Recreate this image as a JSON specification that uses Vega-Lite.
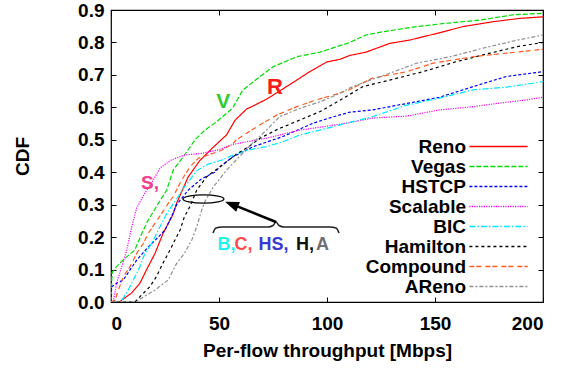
{
  "$schema": "https://vega.github.io/schema/vega-lite/v6.json",
  "width": 432,
  "height": 292,
  "autosize": {"type": "none"},
  "padding": {"left": 111, "top": 10, "right": 36, "bottom": 70},
  "background": "white",
  "config": {
    "view": {"stroke": "black", "strokeWidth": 1.2},
    "font": "Liberation Sans",
    "axis": {
      "grid": false,
      "domain": false,
      "tickSize": -5,
      "tickColor": "black",
      "tickWidth": 1,
      "labelFont": "Liberation Sans",
      "labelFontWeight": "bold",
      "labelFontSize": 19,
      "labelColor": "black",
      "titleFont": "Liberation Sans",
      "titleFontWeight": "bold",
      "titleFontSize": 19,
      "titleColor": "black"
    },
    "legend": {
      "title": null, "orient": "none", "legendX": 378, "legendY": 127, "padding": 0,
      "symbolType": "M-9.7,0H9.7", "symbolSize": 36, "symbolStrokeWidth": 1.5, "rowPadding": 0,
      "labelAlign": "right", "labelOffset": -42, "labelFont": "Liberation Sans", "labelFontWeight": "bold",
      "labelFontSize": 19, "labelColor": "black", "labelLimit": 300
    }
  },
  "data": {"values": [
    {"s":"Reno","x":0,"y":0},{"s":"Reno","x":4,"y":0},{"s":"Reno","x":5,"y":0.006},{"s":"Reno","x":9.6,"y":0.028},{"s":"Reno","x":13.4,"y":0.058},{"s":"Reno","x":16.5,"y":0.1},{"s":"Reno","x":20.4,"y":0.15},{"s":"Reno","x":24,"y":0.21},{"s":"Reno","x":28.7,"y":0.27},{"s":"Reno","x":30.4,"y":0.305},{"s":"Reno","x":35.7,"y":0.385},{"s":"Reno","x":41,"y":0.435},{"s":"Reno","x":47,"y":0.475},{"s":"Reno","x":53.5,"y":0.515},{"s":"Reno","x":57.4,"y":0.56},{"s":"Reno","x":62.8,"y":0.595},{"s":"Reno","x":66,"y":0.605},{"s":"Reno","x":72,"y":0.625},{"s":"Reno","x":78,"y":0.65},{"s":"Reno","x":86,"y":0.684},{"s":"Reno","x":92,"y":0.71},{"s":"Reno","x":100,"y":0.74},{"s":"Reno","x":106,"y":0.748},{"s":"Reno","x":110.6,"y":0.76},{"s":"Reno","x":118,"y":0.77},{"s":"Reno","x":129,"y":0.797},{"s":"Reno","x":138,"y":0.807},{"s":"Reno","x":151,"y":0.828},{"s":"Reno","x":163,"y":0.849},{"s":"Reno","x":177,"y":0.864},{"s":"Reno","x":189,"y":0.874},{"s":"Reno","x":200,"y":0.879},
    {"s":"Vegas","x":0,"y":0},{"s":"Vegas","x":0.5,"y":0.09},{"s":"Vegas","x":2,"y":0.105},{"s":"Vegas","x":6.5,"y":0.135},{"s":"Vegas","x":11,"y":0.16},{"s":"Vegas","x":14.2,"y":0.21},{"s":"Vegas","x":17,"y":0.25},{"s":"Vegas","x":21,"y":0.294},{"s":"Vegas","x":25.8,"y":0.345},{"s":"Vegas","x":28.8,"y":0.407},{"s":"Vegas","x":33.5,"y":0.448},{"s":"Vegas","x":38.9,"y":0.5},{"s":"Vegas","x":43.5,"y":0.53},{"s":"Vegas","x":49,"y":0.556},{"s":"Vegas","x":55,"y":0.59},{"s":"Vegas","x":56.5,"y":0.6},{"s":"Vegas","x":61,"y":0.653},{"s":"Vegas","x":69,"y":0.695},{"s":"Vegas","x":75,"y":0.725},{"s":"Vegas","x":86,"y":0.756},{"s":"Vegas","x":96.8,"y":0.77},{"s":"Vegas","x":106,"y":0.79},{"s":"Vegas","x":110.6,"y":0.8},{"s":"Vegas","x":118,"y":0.823},{"s":"Vegas","x":126,"y":0.833},{"s":"Vegas","x":141.5,"y":0.849},{"s":"Vegas","x":155,"y":0.859},{"s":"Vegas","x":171,"y":0.869},{"s":"Vegas","x":186,"y":0.885},{"s":"Vegas","x":200,"y":0.89},
    {"s":"HSTCP","x":0,"y":0},{"s":"HSTCP","x":0.3,"y":0.047},{"s":"HSTCP","x":2.6,"y":0.058},{"s":"HSTCP","x":5.7,"y":0.068},{"s":"HSTCP","x":8.8,"y":0.099},{"s":"HSTCP","x":11.9,"y":0.129},{"s":"HSTCP","x":17.3,"y":0.17},{"s":"HSTCP","x":21.9,"y":0.2},{"s":"HSTCP","x":25,"y":0.222},{"s":"HSTCP","x":28,"y":0.263},{"s":"HSTCP","x":30.4,"y":0.3},{"s":"HSTCP","x":35.8,"y":0.345},{"s":"HSTCP","x":42,"y":0.38},{"s":"HSTCP","x":48,"y":0.4},{"s":"HSTCP","x":50.5,"y":0.417},{"s":"HSTCP","x":56.5,"y":0.448},{"s":"HSTCP","x":66,"y":0.479},{"s":"HSTCP","x":79.6,"y":0.51},{"s":"HSTCP","x":93.5,"y":0.551},{"s":"HSTCP","x":103,"y":0.571},{"s":"HSTCP","x":110.6,"y":0.585},{"s":"HSTCP","x":121,"y":0.592},{"s":"HSTCP","x":137,"y":0.612},{"s":"HSTCP","x":152,"y":0.631},{"s":"HSTCP","x":167.7,"y":0.664},{"s":"HSTCP","x":183,"y":0.695},{"s":"HSTCP","x":200,"y":0.71},
    {"s":"Scalable","x":0,"y":0},{"s":"Scalable","x":1,"y":0.0},{"s":"Scalable","x":2.6,"y":0.058},{"s":"Scalable","x":5,"y":0.109},{"s":"Scalable","x":7.3,"y":0.16},{"s":"Scalable","x":9.6,"y":0.232},{"s":"Scalable","x":11.9,"y":0.29},{"s":"Scalable","x":15.7,"y":0.336},{"s":"Scalable","x":19.6,"y":0.376},{"s":"Scalable","x":22.7,"y":0.413},{"s":"Scalable","x":28,"y":0.438},{"s":"Scalable","x":34,"y":0.453},{"s":"Scalable","x":42,"y":0.458},{"s":"Scalable","x":49.7,"y":0.469},{"s":"Scalable","x":56.6,"y":0.486},{"s":"Scalable","x":72,"y":0.505},{"s":"Scalable","x":87.5,"y":0.53},{"s":"Scalable","x":98,"y":0.54},{"s":"Scalable","x":110.6,"y":0.553},{"s":"Scalable","x":121,"y":0.567},{"s":"Scalable","x":137,"y":0.573},{"s":"Scalable","x":152,"y":0.592},{"s":"Scalable","x":167.7,"y":0.602},{"s":"Scalable","x":178.6,"y":0.612},{"s":"Scalable","x":192.5,"y":0.623},{"s":"Scalable","x":200,"y":0.631},
    {"s":"BIC","x":0,"y":0},{"s":"BIC","x":4,"y":0},{"s":"BIC","x":5,"y":0.006},{"s":"BIC","x":7.3,"y":0.028},{"s":"BIC","x":10.3,"y":0.068},{"s":"BIC","x":13.4,"y":0.109},{"s":"BIC","x":15.7,"y":0.15},{"s":"BIC","x":18.8,"y":0.18},{"s":"BIC","x":21.9,"y":0.222},{"s":"BIC","x":25.8,"y":0.273},{"s":"BIC","x":29.6,"y":0.31},{"s":"BIC","x":34,"y":0.355},{"s":"BIC","x":39.7,"y":0.405},{"s":"BIC","x":45,"y":0.425},{"s":"BIC","x":51,"y":0.437},{"s":"BIC","x":56.5,"y":0.453},{"s":"BIC","x":64,"y":0.469},{"s":"BIC","x":72,"y":0.479},{"s":"BIC","x":79.6,"y":0.494},{"s":"BIC","x":87.5,"y":0.515},{"s":"BIC","x":96.8,"y":0.53},{"s":"BIC","x":106,"y":0.546},{"s":"BIC","x":121,"y":0.571},{"s":"BIC","x":137,"y":0.607},{"s":"BIC","x":152,"y":0.628},{"s":"BIC","x":167.7,"y":0.654},{"s":"BIC","x":183,"y":0.662},{"s":"BIC","x":200,"y":0.679},
    {"s":"Hamilton","x":0,"y":0},{"s":"Hamilton","x":11,"y":0},{"s":"Hamilton","x":11.9,"y":0.006},{"s":"Hamilton","x":15,"y":0.027},{"s":"Hamilton","x":18,"y":0.047},{"s":"Hamilton","x":21,"y":0.078},{"s":"Hamilton","x":24,"y":0.119},{"s":"Hamilton","x":27.3,"y":0.16},{"s":"Hamilton","x":29.6,"y":0.191},{"s":"Hamilton","x":32,"y":0.222},{"s":"Hamilton","x":34,"y":0.263},{"s":"Hamilton","x":36.6,"y":0.295},{"s":"Hamilton","x":39.7,"y":0.345},{"s":"Hamilton","x":44.3,"y":0.386},{"s":"Hamilton","x":50.5,"y":0.417},{"s":"Hamilton","x":58,"y":0.455},{"s":"Hamilton","x":64,"y":0.48},{"s":"Hamilton","x":69,"y":0.505},{"s":"Hamilton","x":78,"y":0.535},{"s":"Hamilton","x":87.5,"y":0.561},{"s":"Hamilton","x":96.8,"y":0.587},{"s":"Hamilton","x":106,"y":0.622},{"s":"Hamilton","x":116.7,"y":0.664},{"s":"Hamilton","x":129,"y":0.684},{"s":"Hamilton","x":144.5,"y":0.71},{"s":"Hamilton","x":160,"y":0.741},{"s":"Hamilton","x":175.5,"y":0.767},{"s":"Hamilton","x":188,"y":0.787},{"s":"Hamilton","x":200,"y":0.8},
    {"s":"Compound","x":0,"y":0},{"s":"Compound","x":1.9,"y":0.006},{"s":"Compound","x":3.4,"y":0.037},{"s":"Compound","x":5.7,"y":0.078},{"s":"Compound","x":8.8,"y":0.109},{"s":"Compound","x":11.9,"y":0.15},{"s":"Compound","x":15,"y":0.181},{"s":"Compound","x":17.3,"y":0.212},{"s":"Compound","x":20.4,"y":0.243},{"s":"Compound","x":23.5,"y":0.273},{"s":"Compound","x":26.5,"y":0.304},{"s":"Compound","x":28.8,"y":0.325},{"s":"Compound","x":32.7,"y":0.376},{"s":"Compound","x":36.6,"y":0.417},{"s":"Compound","x":40.4,"y":0.443},{"s":"Compound","x":45,"y":0.453},{"s":"Compound","x":51,"y":0.467},{"s":"Compound","x":56.6,"y":0.489},{"s":"Compound","x":58,"y":0.5},{"s":"Compound","x":67.5,"y":0.54},{"s":"Compound","x":76.7,"y":0.576},{"s":"Compound","x":86,"y":0.602},{"s":"Compound","x":95,"y":0.623},{"s":"Compound","x":103,"y":0.638},{"s":"Compound","x":110.6,"y":0.655},{"s":"Compound","x":121,"y":0.69},{"s":"Compound","x":137,"y":0.71},{"s":"Compound","x":149,"y":0.736},{"s":"Compound","x":167.7,"y":0.756},{"s":"Compound","x":183,"y":0.767},{"s":"Compound","x":200,"y":0.779},
    {"s":"AReno","x":0,"y":0},{"s":"AReno","x":12,"y":0},{"s":"AReno","x":12.7,"y":0.006},{"s":"AReno","x":20.4,"y":0.037},{"s":"AReno","x":26.5,"y":0.068},{"s":"AReno","x":30.4,"y":0.119},{"s":"AReno","x":34,"y":0.15},{"s":"AReno","x":37.4,"y":0.191},{"s":"AReno","x":39.7,"y":0.232},{"s":"AReno","x":42,"y":0.284},{"s":"AReno","x":43.5,"y":0.31},{"s":"AReno","x":47.4,"y":0.355},{"s":"AReno","x":53.6,"y":0.407},{"s":"AReno","x":58,"y":0.438},{"s":"AReno","x":64,"y":0.48},{"s":"AReno","x":72,"y":0.53},{"s":"AReno","x":78,"y":0.571},{"s":"AReno","x":87.5,"y":0.597},{"s":"AReno","x":96.8,"y":0.617},{"s":"AReno","x":106,"y":0.643},{"s":"AReno","x":110.6,"y":0.66},{"s":"AReno","x":118,"y":0.679},{"s":"AReno","x":129,"y":0.705},{"s":"AReno","x":141.5,"y":0.736},{"s":"AReno","x":157,"y":0.756},{"s":"AReno","x":172,"y":0.782},{"s":"AReno","x":188,"y":0.807},{"s":"AReno","x":200,"y":0.823}
  ]},
  "layer": [
    {
      "mark": {"type": "line", "strokeWidth": 1.2, "clip": true},
      "encoding": {
        "x": {"field": "x", "type": "quantitative", "scale": {"domain": [0, 200], "nice": false, "zero": false},
              "axis": {"values": [0, 50, 100, 150, 200], "labelPadding": 17, "title": "Per-flow throughput [Mbps]", "titlePadding": 8}},
        "y": {"field": "y", "type": "quantitative", "scale": {"domain": [0, 0.9], "nice": false, "zero": false},
              "axis": {"values": [0, 0.1, 0.2, 0.3, 0.4, 0.5, 0.6, 0.7, 0.8, 0.9], "labelPadding": 12, "title": "CDF", "titlePadding": 45}},
        "color": {"field": "s", "type": "nominal",
          "scale": {"domain": ["Reno", "Vegas", "HSTCP", "Scalable", "BIC", "Hamilton", "Compound", "AReno"],
                    "range": ["#ff0000", "#00dd00", "#0000ff", "#ff00ff", "#00e8ff", "#000000", "#ff5a1e", "#909090"]}},
        "strokeDash": {"field": "s", "type": "nominal",
          "scale": {"domain": ["Reno", "Vegas", "HSTCP", "Scalable", "BIC", "Hamilton", "Compound", "AReno"],
                    "range": [[1, 0], [5, 2], [3, 2], [1.2, 1.2], [6, 2, 1.5, 2], [3, 3], [5, 2, 5, 4], [4, 2, 2, 2]]}}
      }
    },
    {
      "mark": {"type": "point", "opacity": 0},
      "encoding": {
        "x": {"field": "x", "type": "quantitative", "scale": {"domain": [0, 200], "nice": false, "zero": false},
              "axis": {"orient": "top", "values": [0, 50, 100, 150, 200], "labels": false, "title": null}},
        "y": {"field": "y", "type": "quantitative", "scale": {"domain": [0, 0.9], "nice": false, "zero": false},
              "axis": {"orient": "right", "values": [0, 0.1, 0.2, 0.3, 0.4, 0.5, 0.6, 0.7, 0.8, 0.9], "labels": false, "title": null}}
      }
    },
    {
      "data": {"values": [
        {"x": 47.2, "y": 0.2127}, {"x": 48.6, "y": 0.2281}, {"x": 51.4, "y": 0.2312}, {"x": 72.7, "y": 0.2312},
        {"x": 75.0, "y": 0.2358}, {"x": 76.4, "y": 0.2466}, {"x": 77.8, "y": 0.2358}, {"x": 80.1, "y": 0.2312},
        {"x": 101.4, "y": 0.2312}, {"x": 104.2, "y": 0.2281}, {"x": 105.6, "y": 0.2127}
      ]},
      "mark": {"type": "line", "color": "#222222", "strokeWidth": 1.5, "interpolate": "monotone"},
      "encoding": {
        "x": {"field": "x", "type": "quantitative", "scale": {"domain": [0, 200], "nice": false, "zero": false}, "axis": null},
        "y": {"field": "y", "type": "quantitative", "scale": {"domain": [0, 0.9], "nice": false, "zero": false}, "axis": null}
      }
    },
    {
      "data": {"values": [{"x": 76.4, "y": 0.2466, "x2": 56.5, "y2": 0.3}]},
      "mark": {"type": "rule", "color": "black", "strokeWidth": 2.6},
      "encoding": {
        "x": {"field": "x", "type": "quantitative", "scale": {"domain": [0, 200], "nice": false, "zero": false}, "axis": null},
        "y": {"field": "y", "type": "quantitative", "scale": {"domain": [0, 0.9], "nice": false, "zero": false}, "axis": null},
        "x2": {"field": "x2"},
        "y2": {"field": "y2"}
      }
    },
    {
      "data": {"values": [{"x": 52.8, "y": 0.309}]},
      "mark": {"type": "point", "shape": "M0,0L0.55,1.5L-0.55,1.5Z", "size": 348, "angle": 291.4, "filled": true, "color": "black", "opacity": 1},
      "encoding": {
        "x": {"field": "x", "type": "quantitative", "scale": {"domain": [0, 200], "nice": false, "zero": false}, "axis": null},
        "y": {"field": "y", "type": "quantitative", "scale": {"domain": [0, 0.9], "nice": false, "zero": false}, "axis": null}
      }
    },
    {
      "data": {"values": [{"x": 42.8, "y": 0.3175}]},
      "mark": {"type": "point", "shape": "M-1,0A1,0.2 0 1,1 1,0A1,0.2 0 1,1 -1,0Z", "size": 1681, "filled": false, "color": "black", "strokeWidth": 1.3, "opacity": 1},
      "encoding": {
        "x": {"field": "x", "type": "quantitative", "scale": {"domain": [0, 200], "nice": false, "zero": false}, "axis": null},
        "y": {"field": "y", "type": "quantitative", "scale": {"domain": [0, 0.9], "nice": false, "zero": false}, "axis": null}
      }
    },
    {
      "data": {"values": [{"x": 75.9, "y": 0.662, "t": "R"}]},
      "mark": {"type": "text", "font": "Liberation Sans", "fontWeight": "bold", "fontSize": 22, "color": "#ff1a1a", "align": "center", "baseline": "middle"},
      "encoding": {
        "x": {"field": "x", "type": "quantitative", "scale": {"domain": [0, 200], "nice": false, "zero": false}, "axis": null},
        "y": {"field": "y", "type": "quantitative", "scale": {"domain": [0, 0.9], "nice": false, "zero": false}, "axis": null},
        "text": {"field": "t"}
      }
    },
    {
      "data": {"values": [{"x": 52, "y": 0.6156, "t": "V"}]},
      "mark": {"type": "text", "font": "Liberation Sans", "fontWeight": "bold", "fontSize": 21, "color": "#33cc33", "align": "center", "baseline": "middle"},
      "encoding": {
        "x": {"field": "x", "type": "quantitative", "scale": {"domain": [0, 200], "nice": false, "zero": false}, "axis": null},
        "y": {"field": "y", "type": "quantitative", "scale": {"domain": [0, 0.9], "nice": false, "zero": false}, "axis": null},
        "text": {"field": "t"}
      }
    },
    {
      "data": {"values": [{"x": 13.9, "y": 0.366, "t": "S,"}]},
      "mark": {"type": "text", "font": "Liberation Sans", "fontWeight": "bold", "fontSize": 19, "color": "#f0408a", "align": "left", "baseline": "middle"},
      "encoding": {
        "x": {"field": "x", "type": "quantitative", "scale": {"domain": [0, 200], "nice": false, "zero": false}, "axis": null},
        "y": {"field": "y", "type": "quantitative", "scale": {"domain": [0, 0.9], "nice": false, "zero": false}, "axis": null},
        "text": {"field": "t"}
      }
    },
    {
      "data": {"values": [{"x": 49.3, "y": 0.1757, "t": "B,"}]},
      "mark": {"type": "text", "font": "Liberation Sans", "fontWeight": "bold", "fontSize": 18, "color": "#1ff2f2", "align": "left", "baseline": "middle"},
      "encoding": {
        "x": {"field": "x", "type": "quantitative", "scale": {"domain": [0, 200], "nice": false, "zero": false}, "axis": null},
        "y": {"field": "y", "type": "quantitative", "scale": {"domain": [0, 0.9], "nice": false, "zero": false}, "axis": null},
        "text": {"field": "t"}
      }
    },
    {
      "data": {"values": [{"x": 57.2, "y": 0.1757, "t": "C,"}]},
      "mark": {"type": "text", "font": "Liberation Sans", "fontWeight": "bold", "fontSize": 18, "color": "#ff4a4a", "align": "left", "baseline": "middle"},
      "encoding": {
        "x": {"field": "x", "type": "quantitative", "scale": {"domain": [0, 200], "nice": false, "zero": false}, "axis": null},
        "y": {"field": "y", "type": "quantitative", "scale": {"domain": [0, 0.9], "nice": false, "zero": false}, "axis": null},
        "text": {"field": "t"}
      }
    },
    {
      "data": {"values": [{"x": 68.3, "y": 0.1757, "t": "HS,"}]},
      "mark": {"type": "text", "font": "Liberation Sans", "fontWeight": "bold", "fontSize": 18, "color": "#3a3ad0", "align": "left", "baseline": "middle"},
      "encoding": {
        "x": {"field": "x", "type": "quantitative", "scale": {"domain": [0, 200], "nice": false, "zero": false}, "axis": null},
        "y": {"field": "y", "type": "quantitative", "scale": {"domain": [0, 0.9], "nice": false, "zero": false}, "axis": null},
        "text": {"field": "t"}
      }
    },
    {
      "data": {"values": [{"x": 85.6, "y": 0.1757, "t": "H,"}]},
      "mark": {"type": "text", "font": "Liberation Sans", "fontWeight": "bold", "fontSize": 18, "color": "#111111", "align": "left", "baseline": "middle"},
      "encoding": {
        "x": {"field": "x", "type": "quantitative", "scale": {"domain": [0, 200], "nice": false, "zero": false}, "axis": null},
        "y": {"field": "y", "type": "quantitative", "scale": {"domain": [0, 0.9], "nice": false, "zero": false}, "axis": null},
        "text": {"field": "t"}
      }
    },
    {
      "data": {"values": [{"x": 94.9, "y": 0.1757, "t": "A"}]},
      "mark": {"type": "text", "font": "Liberation Sans", "fontWeight": "bold", "fontSize": 18, "color": "#707070", "align": "left", "baseline": "middle"},
      "encoding": {
        "x": {"field": "x", "type": "quantitative", "scale": {"domain": [0, 200], "nice": false, "zero": false}, "axis": null},
        "y": {"field": "y", "type": "quantitative", "scale": {"domain": [0, 0.9], "nice": false, "zero": false}, "axis": null},
        "text": {"field": "t"}
      }
    }
  ],
  "resolve": {"axis": {"x": "independent", "y": "independent"}}
}
